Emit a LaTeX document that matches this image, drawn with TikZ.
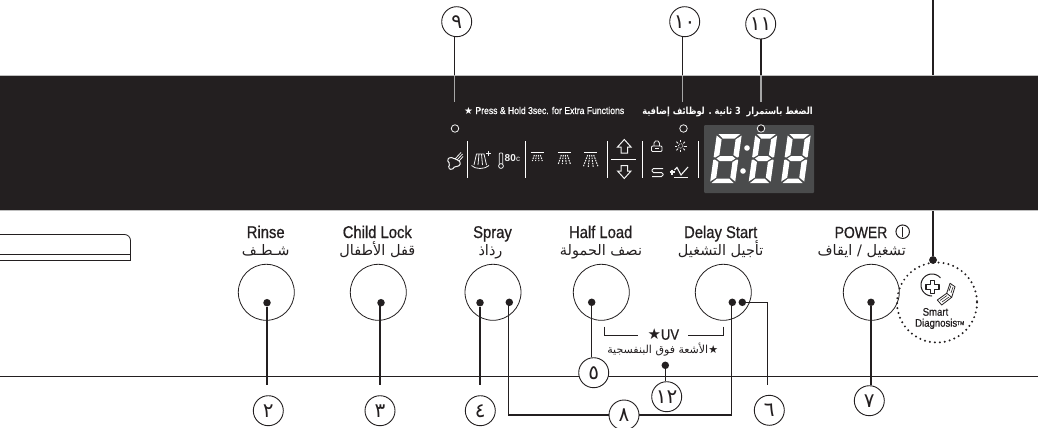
\documentclass[tikz,border=0pt]{standalone}
\usepackage{fontspec}
\setmainfont{Liberation Sans}
\newfontfamily\lab[FakeStretch=0.87,FakeBold=0.7]{Liberation Sans}
\newfontfamily\arfont[Script=Arabic]{DejaVu Sans}
\newfontfamily\arnarrow[Script=Arabic,FakeStretch=0.84]{DejaVu Sans}
\newfontfamily\symf{DejaVu Sans}
\TeXXeTstate=1
\newcommand{\ar}[1]{{\arfont\beginR #1\endR}}
\definecolor{ink}{HTML}{231F20}
\definecolor{panel}{HTML}{4A4B4C}
\definecolor{iconw}{HTML}{F2F2F2}
\tikzset{
  callout/.style={draw=ink,circle,line width=.9pt,minimum size=30pt,inner sep=0pt,fill=white,font=\arfont\fontsize{20}{20}\selectfont,text=ink},
  button/.style={draw=ink,circle,line width=.8pt,minimum size=56pt,inner sep=0pt},
  pin/.style={circle,fill=ink,minimum size=7.5pt,inner sep=0pt},
  hollow/.style={circle,draw=iconw,line width=.8pt,minimum size=7.5pt,inner sep=0pt,fill=ink},
  lead/.style={draw=ink,line width=1.1pt},
  leadgray/.style={draw=gray!70,line width=1.1pt},
  enlab/.style={font=\lab\fontsize{17}{17}\selectfont,text=ink,inner sep=0pt,anchor=base},
  arlab/.style={font=\fontsize{14.5}{14.5}\selectfont,text=ink,inner sep=0pt,anchor=base},
  sep/.style={draw=white,line width=.8pt},
  ico/.style={draw=iconw,line width=.8pt},
  sprayd/.style={draw=iconw,line width=1pt,dash pattern=on 1.6pt off 1pt},
}
\newcommand{\segdigit}[2]{%
\begin{scope}[shift={(#1,183)},xslant=0.14,fill=white,draw=none]
\def\w{#2}
\pgfmathsetmacro{\wa}{\w-1.5}\pgfmathsetmacro{\wb}{\w-6.5}\pgfmathsetmacro{\wc}{\w-3}\pgfmathsetmacro{\wd}{\w-6.5}\pgfmathsetmacro{\we}{\w-5.5}
\fill (1.5,-49)--(\wa,-49)--(\wb,-44.5)--(6.5,-44.5)--cycle;
\fill (1.5,0)--(\wa,0)--(\wb,-4.5)--(6.5,-4.5)--cycle;
\fill (3,-24.5)--(6.5,-27)--(\wd,-27)--(\wc,-24.5)--(\wd,-22)--(6.5,-22)--cycle;
\fill (0,-47.5)--(5.5,-43.5)--(5.5,-28)--(1.5,-25.5)--(0,-26)--cycle;
\fill (0,-1.5)--(5.5,-5.5)--(5.5,-21)--(1.5,-23.5)--(0,-23)--cycle;
\fill (\w,-47.5)--(\we,-43.5)--(\we,-28)--(\wa,-25.5)--(\w,-26)--cycle;
\fill (\w,-1.5)--(\we,-5.5)--(\we,-21)--(\wa,-23.5)--(\w,-23)--cycle;
\end{scope}}
\newcommand{\sprayicon}[3]{%
\draw[draw=white,line width=1.2pt] (#1-6.5,152.7)--(#1+6.5,152.7);
\foreach \a in {-1,-.33,.33,1}{\draw[sprayd] (#1+\a*3,155)--(#1+\a*#2,#3);}}
\begin{document}
\begin{tikzpicture}[x=1pt,y=-1pt]
\useasboundingbox (0,0) rectangle (1038,428);
\fill[white] (0,0) rectangle (1038,428);
% line of smart diagnosis behind the band
\node[pin] (dsd) at (933,260) {};
\coordinate (tsd) at (933,0);
\draw[lead] (tsd) -- (dsd);
% band
\fill[ink] (0,75) rectangle (1038,209.5);
\draw[gray!50,line width=.7pt] (0,75)--(1038,75) (0,210)--(1038,210);
% display
\fill[panel,rounded corners=1pt] (704,125) rectangle (814,193);
\segdigit{710}{25}
\segdigit{748.5}{22}
\segdigit{781}{23}
\fill[white] (747,148) circle (2.8) (743,171) circle (2.8);
% top callouts
\node[callout] (c9) at (456.7,21.7) {٩};
\node[callout] (c10) at (684.7,21.7) {١٠};
\node[callout] (c11) at (760.7,24) {١١};
\node[hollow] (h9) at (455,128.5) {};
\node[hollow] (h10) at (683.5,128.5) {};
\node[hollow] (h11) at (761,128.5) {};
\coordinate (e9) at (454.3,102); \coordinate (b9) at (454.3,75);
\coordinate (e10) at (682.7,102); \coordinate (b10) at (682.7,75);
\coordinate (e11) at (761,102); \coordinate (b11) at (761,75);
\draw[lead] (c9.south -| b9) -- (b9); \draw[lead] (c10.south -| b10) -- (b10); \draw[lead] (c11.south -| b11) -- (b11);
\draw[leadgray] (b9) -- (e9); \draw[leadgray] (b10) -- (e10); \draw[leadgray] (b11) -- (e11);
% panel text
\node[anchor=base west,inner sep=0pt,text=white,font=\lab\fontsize{9.9}{10}\selectfont] (t1) at (464,114) {{\symf ★} Press \& Hold 3sec. for Extra Functions};
\node[anchor=base east,inner sep=0pt,text=white,font=\arnarrow\bfseries\fontsize{9.8}{10}\selectfont] (t2) at (813,114) {\beginR الضغط باستمرار\ \ 3 ثانية . لوظائف إضافية\endR};
% separators
\foreach \x in {467.3,525.3,607.3,642.3,698.3}{\draw[sep] (\x,141)--(\x,177.7);}
\draw[sep] (611,159.3)--(636,159.3);
% arrows
\draw[ico,line width=1pt] (624.3,139.5)--(631,147)--(627.5,147)--(627.5,153)--(621,153)--(621,147)--(617.5,147)--cycle;
\draw[ico,line width=1pt] (624.3,178.5)--(631,171)--(627.5,171)--(627.5,165.5)--(621,165.5)--(621,171)--(617.5,171)--cycle;
% steam icon
\draw[ico,line width=1pt,rounded corners=1.5pt] (450,157)--(454,158.5)--(458,160)--(461,163)--(458,167)--(455,166)--(452,170)--(448,168)--(450,164)--(447,160)--cycle;
\draw[ico] (455,159)--(461,152.5) (457,160)--(462.5,154) (459,161)--(463,156.5);
% sprayer plus
\draw[ico] (474,165)--(476.5,154)--(484,154)--(486.5,165) (478,165)--(479,154) (482.5,165)--(481.5,154);
\draw[ico] (471.5,165.5) .. controls (475,169.5) and (485,169.5) .. (489,165.5);
\draw[ico,line width=1pt] (486,153.5)--(490.5,153.5) (488.2,151.2)--(488.2,155.8);
% thermometer
\draw[ico] (499.3,164)--(499.3,154)--(500,153)--(502,153)--(502.7,154)--(502.7,164);
\draw[ico] (501,166) circle (2.4);
\node[inner sep=0pt,anchor=base west,text=iconw,font=\bfseries\fontsize{10}{10}\selectfont] (t80) at (504.5,161.5) {80};
\node[inner sep=0pt,anchor=base west,text=iconw,font=\fontsize{8}{8}\selectfont] (t80c) at (516,161.5) {c};
% sprays
\sprayicon{537.3}{5}{161}
\sprayicon{564.3}{6}{164}
\sprayicon{590.7}{7.5}{167}
% lock
\draw[ico,rounded corners=1pt] (651.5,146)rectangle(662,151.5);
\draw[ico] (654,146)--(654,143)--(655.5,141)--(658,141)--(659.4,143)--(659.4,146);
\draw[ico,line width=.5pt] (655,148.7)--(658.5,148.7);
% sun
\draw[ico,densely dotted] (680.7,146) circle (2.3);
\foreach \t in {0,45,...,315}{\draw[ico] (680.7,146)++(\t:3.6)--++(\t:2.4);}
% S loop
\draw[ico,line width=1pt,rounded corners=1.5pt] (663,168.5)--(652,168.5)--(652,172.5)--(663,172.5)--(663,176.5)--(652,176.5);
% curve
\draw[ico,line width=1.1pt] (674.5,170)--(677,167.5)--(681,175)--(688,167);
\draw[ico,line width=1.1pt] (674,177.5)--(688,177.5);
\draw[ico,line width=1.2pt] (672,169.5)--(672,174.5) (669.5,172)--(674.5,172);
% slot
\draw[ink,line width=.8pt,rounded corners=6pt] (0,234.5)--(130.5,234.5)--(130.5,260);
\draw[ink,line width=.8pt] (130.5,250)--(130.5,260)--(0,260);
\draw[ink,line width=.6pt] (0,254.5)--(130.5,254.5);
% base line
\draw[ink,line width=.8pt] (0,376)--(1038,376);
% labels
\node[enlab] (l1) at (265.7,238) {Rinse};
\node[enlab] (l2) at (377.3,238) {Child Lock};
\node[enlab] (l3) at (492.5,238) {Spray};
\node[enlab] (l4) at (600.7,238) {Half Load};
\node[enlab] (l5) at (720.7,238) {Delay Start};
\node[enlab,anchor=base east,font=\lab\fontsize{16}{16}\selectfont] (l6) at (887.5,238) {POWER};
\node[circle,draw=ink,line width=1pt,minimum size=13.5pt,inner sep=0pt] (pw) at (902.7,231.7) {};
\draw[ink,line width=1.4pt] (902.7,226.7)--(902.7,236.7);
\node[arlab] (a1) at (265.7,255) {\ar{شـطـف}};
\node[arlab] (a2) at (377.3,255) {\ar{قفل الأطفال}};
\node[arlab] (a3) at (490.5,255) {\ar{رذاذ}};
\node[arlab] (a4) at (601,255) {\ar{نصف الحمولة}};
\node[arlab] (a5) at (720.7,255) {\ar{تأجيل التشغيل}};
\node[arlab] (a6) at (861.7,255) {\ar{تشغيل / ايقاف}};
% buttons
\node[button] (b1) at (266.3,292.3) {};
\node[button] (b2) at (378.3,292.3) {};
\node[button] (b3) at (493,292.3) {};
\node[button] (b4) at (601.3,292.3) {};
\node[button] (b5) at (723.3,292.3) {};
\node[button] (b6) at (871.3,292.3) {};
% smart diagnosis
\draw[ink,line width=2.2pt,line cap=round,dash pattern=on 0pt off 5pt] (937,302.5) circle (40);
\node[pin] at (dsd) {};
\draw[ink,line width=1pt] plot[domain=-40:-270,samples=40] ({932+11*cos(\x)},{285+11*sin(\x)});
\draw[ink,line width=1.1pt,line join=round] (930.2,280.5)--(934.8,280.5)--(934.8,284.7)--(939,284.7)--(939,289.3)--(934.8,289.3)--(934.8,293.5)--(930.2,293.5)--(930.2,289.3)--(926,289.3)--(926,284.7)--(930.2,284.7)--cycle;
\draw[ink,line width=.8pt,line join=round] (937.3,300)--(946.7,293.3)--(951.7,297.3)--(941.7,305)--cycle;
\draw[ink,line width=.8pt,line join=round] (946.7,293.3)--(950,283.3)--(955,286.7)--(951.7,297.3);
\draw[ink,line width=.6pt] (940,300.5)--(947,295.5) (942,302)--(949,297) (949,291)--(951,285.5) (951,293)--(953,287);
\node[inner sep=0pt,anchor=base west,text=ink,font=\lab\fontsize{11}{11}\selectfont] (sm) at (922.5,315.7) {Smart};
\node[inner sep=0pt,anchor=base west,text=ink,font=\lab\fontsize{11}{11}\selectfont] (di) at (915,326.7) {Diagnosis};
\node[inner sep=0pt,anchor=base west,text=ink,font=\lab\fontsize{5.5}{6}\selectfont] (tm) at (957,325) {TM};
% uv
\coordinate (u1) at (604,326.7); \coordinate (u2) at (604,335); \coordinate (u3) at (637.7,335);
\coordinate (u4) at (723.3,326.7); \coordinate (u5) at (723.3,335); \coordinate (u6) at (688.3,335);
\draw[ink,line width=.8pt] (u1)--(u2)--(u3) (u4)--(u5)--(u6);
\node[inner sep=0pt,text=ink,font=\lab\fontsize{15}{15}\selectfont] (uv) at (663.3,334.3) {{\symf ★}UV};
\node[arlab,anchor=center,font=\fontsize{11}{11}\selectfont] (auv) at (662.7,349.3) {\ar{{\symf ★}الأشعة فوق البنفسجية}};
% pins
\node[pin] (d2) at (267,302.7) {};
\node[pin] (d3) at (381,302.7) {};
\node[pin] (d4) at (480,302.7) {};
\node[pin] (d8a) at (509.3,302.3) {};
\node[pin] (d5) at (591.7,302.3) {};
\node[pin] (d8b) at (732.3,302.3) {};
\node[pin] (d6) at (742.3,302.3) {};
\node[pin] (d7) at (871,302.3) {};
\node[pin] (d12) at (665.3,365.3) {};
% bottom callouts
\node[callout] (c2) at (268.3,410.7) {٢};
\node[callout] (c3) at (380,410.7) {٣};
\node[callout] (c4) at (480.3,410.7) {٤};
\node[callout] (c5) at (593.7,372.7) {٥};
\node[callout] (c6) at (769.3,410.3) {٦};
\node[callout] (c7) at (869.3,400.7) {٧};
\node[callout] (c8) at (624,415) {٨};
\node[callout] (c12) at (666.7,396.7) {١٢};
\coordinate (e2) at (267,385); \coordinate (e3) at (380,385); \coordinate (e4) at (479.7,385); \coordinate (e6) at (767.5,385);
\coordinate (k6) at (767.5,302.3);
\coordinate (k8a) at (508.5,415); \coordinate (k8b) at (731.7,415);
\draw[lead] (d2) -- (d2 |- e2);
\draw[lead] (d3.center -| e3) -- (e3);
\draw[lead] (d4) -- (d4 |- e4);
\draw[lead] (d5) -- (d5 |- c5.north);
\draw[lead] (d6) -- (k6) -- (e6);
\draw[lead] (d7) -- (d7 |- c7.north);
\draw[lead] (d12) -- (d12 |- c12.north);
\draw[lead] (d8a.center -| k8a) -- (k8a) -- (c8);
\draw[lead] (c8) -- (k8b) -- (d8b.center -| k8b);
\end{tikzpicture}
\end{document}
